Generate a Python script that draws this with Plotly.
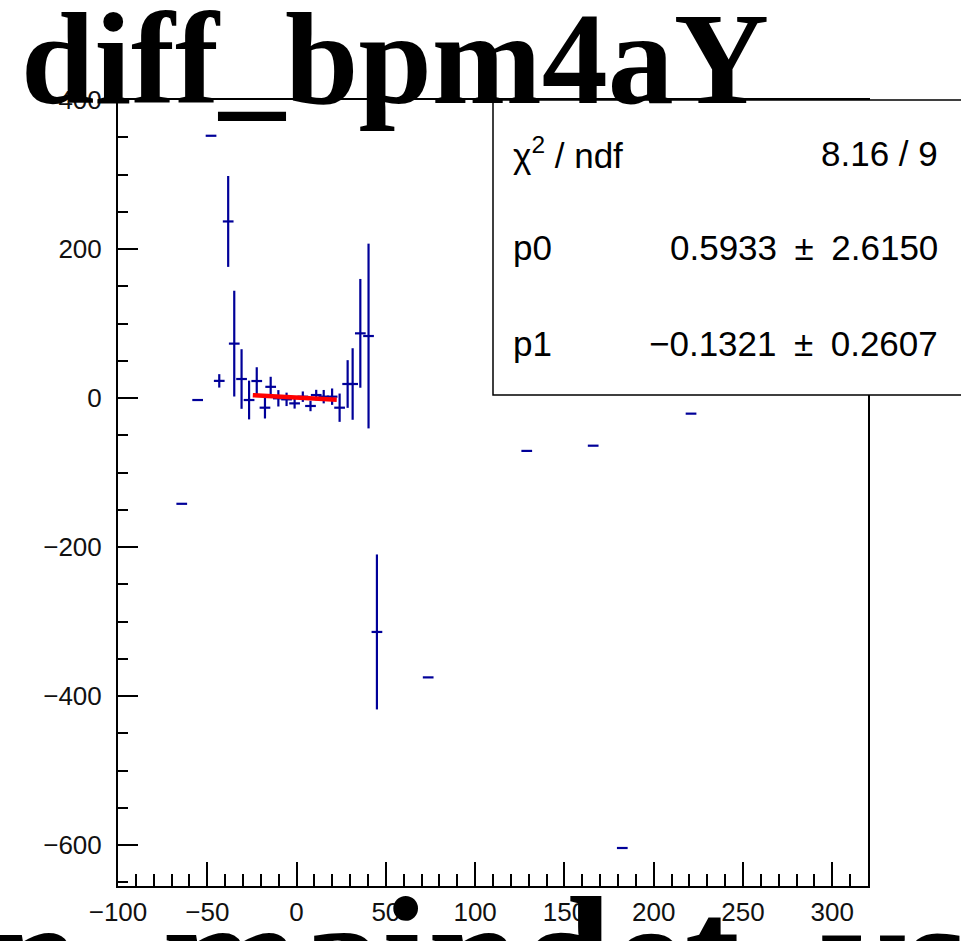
import plotly.graph_objects as go

# ---- data ----
x_vals = [-64.3, -55.4, -47.9, -43.3, -38.3, -34.9, -30.8, -26.6, -22.3, -17.7,
          -14.5, -10.2, -5.6, -1.1, 3.5, 7.8, 11.0, 15.2, 19.9, 24.1,
          28.6, 31.4, 35.7, 40.3, 45.0, 73.7, 128.9, 166.1, 182.4, 220.9]
y_vals = [-142, -2.7, 352, 23, 237, 73, 25.5, -2.7, 22.8, -13,
          15, -0.4, -1.8, -7.2, 1.8, -10.7, 4, 1.8, 1.8, -13,
          18.8, 18.8, 86.8, 83.2, -314, -375, -71, -64, -604, -21]
y_err = [0, 0, 0, 9, 61, 71, 40, 26, 18.5, 14.5,
         13.5, 11, 9, 7, 7, 7, 7, 9, 11, 19,
         32, 48, 73, 124, 104, 0, 0, 0, 0, 0]
x_err = [3] * len(x_vals)

fit_p0 = 0.5933
fit_p1 = -0.1321
fit_x = [-24.5, 22.5]
fit_y = [fit_p0 + fit_p1 * v for v in fit_x]

title_text = "diff_bpm4aY"
xtitle_text = "n_maindet_vs"
stats_labels = ["χ<sup>2</sup> / ndf", "p0", "p1"]
stats_values = ["8.16 / 9", "0.5933\u2002±\u20022.6150", "−0.1321\u2002±\u20020.2607"]

W, H = 961, 941
L, R, T, B = 118, 868, 100, 886


def px(xp):
    return (xp - L) / (R - L)


def py(yp):
    return (B - yp) / (B - T)


fig = go.Figure()
fig.add_trace(go.Scatter(
    x=x_vals, y=y_vals, mode="markers",
    marker=dict(size=1, color="#000099", opacity=0),
    error_y=dict(type="data", array=y_err, thickness=2.2, width=0, color="#000099"),
    error_x=dict(type="data", array=x_err, thickness=2.2, width=0, color="#000099"),
    showlegend=False, hoverinfo="skip"))
fig.add_trace(go.Scatter(
    x=fit_x, y=fit_y, mode="lines", line=dict(color="#ff0000", width=4.5),
    showlegend=False, hoverinfo="skip"))

tickfont = dict(family="Liberation Sans, Arial, sans-serif", size=26, color="#111")
fig.update_xaxes(range=[-100, 320], tick0=0, dtick=50, ticks="inside", ticklen=24,
                 tickwidth=1.5, tickcolor="black", showline=True, linewidth=2,
                 linecolor="black", mirror=True, showgrid=False, zeroline=False,
                 tickfont=tickfont, ticklabelstandoff=2,
                 minor=dict(ticks="inside", ticklen=12, dtick=10, tick0=0,
                            tickwidth=1.5, tickcolor="black", showgrid=False))
fig.update_yaxes(range=[-655, 400], tick0=0, dtick=200, ticks="inside", ticklen=20,
                 tickwidth=1.5, tickcolor="black", showline=True, linewidth=2,
                 linecolor="black", mirror=True, showgrid=False, zeroline=False,
                 tickfont=tickfont, ticklabelstandoff=9,
                 minor=dict(ticks="inside", ticklen=10, dtick=50, tick0=0,
                            tickwidth=1.5, tickcolor="black", showgrid=False))

# stats box
fig.add_shape(type="rect", xref="paper", yref="paper",
              x0=px(493), x1=px(975), y0=py(395), y1=py(100),
              fillcolor="white", line=dict(color="black", width=1.5), layer="above")

row_y = [153, 247, 343]
sfont = dict(family="Liberation Sans, Arial, sans-serif", size=35, color="black")
for lab, val, ry in zip(stats_labels, stats_values, row_y):
    fig.add_annotation(text=lab, xref="paper", yref="paper", x=px(511), y=py(ry),
                       xanchor="left", yanchor="middle", showarrow=False, font=sfont)
    fig.add_annotation(text=val, xref="paper", yref="paper", x=px(940), y=py(ry),
                       xanchor="right", yanchor="middle", showarrow=False, font=sfont)

# title
fig.add_annotation(text="<b>" + title_text + "</b>", xref="paper", yref="paper",
                   x=px(19), y=py(134), xanchor="left", yanchor="bottom",
                   showarrow=False,
                   font=dict(family="Liberation Serif, Times New Roman, serif",
                             size=132, color="black"))
# x-axis title (cut off at bottom)
fig.add_annotation(text="<b>" + xtitle_text + "</b>", xref="paper", yref="paper",
                   x=px(-14), y=py(862), xanchor="left", yanchor="top",
                   showarrow=False,
                   font=dict(family="Liberation Serif, Times New Roman, serif",
                             size=165, color="black"))

fig.update_layout(width=W, height=H, margin=dict(l=L, r=W - R, t=T, b=H - B),
                  paper_bgcolor="white", plot_bgcolor="white")
fig.write_html("out.html", config={"displayModeBar": False},
               post_script="document.body.style.margin='0px';")
